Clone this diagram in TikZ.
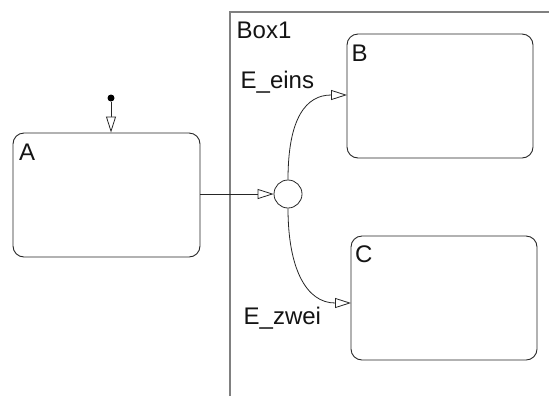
\documentclass[tikz,border=0pt]{standalone}
\usepackage{fontspec}
\setmainfont{Liberation Sans}
\usetikzlibrary{arrows.meta}
\tikzset{
  state/.style={draw=black!85, line width=0.9bp, rounded corners=11bp, minimum width=#1},
  lbl/.style={anchor=base west, inner sep=0pt, text=black!92, font=\fontsize{24bp}{26bp}\selectfont},
  trans/.style={draw=black!85, line width=0.8bp, -{Triangle[open, length=16bp, width=10bp, fill=white]}},
  junction/.style={circle, draw=black!85, line width=0.8bp, fill=white, minimum size=28bp, inner sep=0pt},
}
\begin{document}
\begin{tikzpicture}[x=1bp, y=-1bp]
\useasboundingbox (0,0) rectangle (549,396);
% superstate frame
\draw[draw=black!50, line width=1.5bp] (230,396) -- (230,12) -- (549.5,12);
\node[lbl] (box1) at (236.5,38.3) {Box1};
% states
\node[state, minimum width=187bp, minimum height=124bp] (A) at (106.5,195) {};
\node[state, minimum width=186bp, minimum height=124bp] (B) at (440,96) {};
\node[state, minimum width=186bp, minimum height=124bp] (C) at (444,298) {};
\node[lbl] (la) at (19,160) {A};
\node[lbl] (lb) at (351.5,61) {B};
\node[lbl] (lc) at (355,262) {C};
% junction
\node[junction] (J) at (288,194) {};
% default transition
\node[circle, fill=black, inner sep=0pt, minimum size=7bp] (init) at (111,98) {};
\draw[trans] (init) -- (init |- A.north);
% transitions
\draw[trans] (A.east |- J.west) -- (J.west);
\coordinate (bin) at (347,95);
\coordinate (cin) at (351,303);
\draw[trans] (J.north) .. controls (288,118) and (306,95) .. (bin);
\draw[trans] (J.south) .. controls (288,268) and (306,303) .. (cin);
\node[lbl] (eeins) at (240.5,88.3) {E\_eins};
\node[lbl] (ezwei) at (243.5,324) {E\_zwei};
\end{tikzpicture}
\end{document}
